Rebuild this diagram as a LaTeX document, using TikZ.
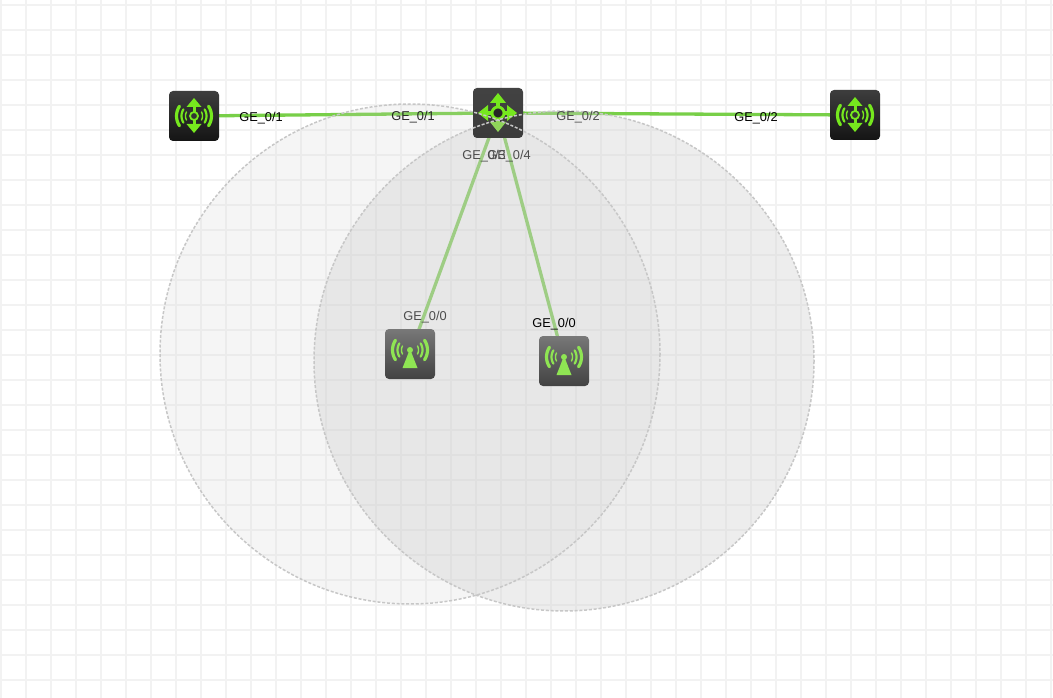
\documentclass[tikz,border=0pt]{standalone}
\usepackage{fontspec}
\setmainfont{Liberation Sans}
\pgfdeclarelayer{under}
\pgfdeclarelayer{over}
\pgfsetlayers{under,main,over}
\definecolor{lime}{HTML}{76E81E}
\definecolor{apgreen}{HTML}{8FE553}
\definecolor{palelime}{HTML}{8FD45A}
\definecolor{linkgreen}{HTML}{78CF48}
\tikzset{
  x=1pt,y=-1pt,
  gridline/.style={draw=black!5,line width=2.6pt},
  devbox/.style={rectangle,rounded corners=4pt,minimum size=50pt,inner sep=0pt,draw=none},
  darkbox/.style={devbox,top color=black!76,bottom color=black!92},
  hubbox/.style={devbox,top color=black!74,bottom color=black!77},
  apbox/.style={devbox,top color=black!53,bottom color=black!74},
  link/.style={line width=3.3pt,draw=linkgreen},
  zonefill/.style={draw=none,fill=black!20},
  zoneline/.style={draw=black!22,dash pattern=on 3pt off 1.8pt,line width=1.5pt},
  portlabel/.style={font=\fontsize{12.8pt}{14pt}\selectfont,inner sep=0pt,text=black!85},
  portdim/.style={portlabel,text=black!70},
  ico/.style={draw=lime,line width=2.4pt,line cap=round},
  wave/.pic={
    \foreach \r/\w/\a in {8.5/1.4/28,12.5/2.2/32,17.5/3.2/34}{
      \draw[draw=#1,line width=\w pt,line cap=round] plot[smooth,domain=-\a:\a,samples=9] ({\r*cos(\x)},{\r*sin(\x)});
      \draw[draw=#1,line width=\w pt,line cap=round] plot[smooth,domain=180-\a:180+\a,samples=9] ({\r*cos(\x)},{\r*sin(\x)});
    }
  },
  wanicon/.pic={
    \pic at (0,0) {wave=lime};
    \draw[ico,line cap=butt,line width=3pt] (0,-10) -- (0,-4) (0,4) -- (0,10);
    \fill[lime] (0,-18) -- (7.5,-9) -- (-7.5,-9) -- cycle;
    \fill[lime] (0,17) -- (7.5,8) -- (-7.5,8) -- cycle;
    \draw[draw=lime,fill=black!80,line width=1.8pt] (0,0) circle[radius=4];
  },
  hubicon/.pic={
    \draw[ico,line cap=butt,line width=3.4pt] (0,-12) -- (0,0) (-12,0) -- (0,0) (12,0) -- (0,0);
    \draw[draw=palelime,line cap=butt,line width=3.4pt] (0,12) -- (0,0);
    \fill[lime] (0,-20) -- (8,-10) -- (-8,-10) -- cycle;
    \fill[palelime] (0,19) -- (8,9) -- (-8,9) -- cycle;
    \fill[lime] (-20,0) -- (-10,8) -- (-10,-8) -- cycle;
    \fill[lime] (19,0) -- (9,8) -- (9,-8) -- cycle;
    \draw[draw=lime,fill=black!85,line width=2.8pt] (0,0) circle[radius=6];
  },
  apicon/.pic={
    \begin{scope}[shift={(0,-4)}]
      \pic at (0,0) {wave=apgreen};
      \fill[apgreen] (0,-1) -- (7.5,18) -- (-7.5,18) -- cycle;
      \fill[apgreen] (0,0) circle[radius=3];
    \end{scope}
  },
}
\begin{document}
\begin{tikzpicture}
\useasboundingbox (0,0) rectangle (1053,698);
% devices below the zones
\node[darkbox] (wanL) at (194,116) {};
\node[darkbox] (wanR) at (855,115) {};
\pic at (wanL) {wanicon};
\pic at (wanR) {wanicon};
\coordinate (hubpos) at (498,113);
\coordinate (apLpos) at (410,354);
\coordinate (apRpos) at (564,361);
\begin{pgfonlayer}{under}
  \fill[white] (0,0) rectangle (1053,698);
  \foreach \k in {0,...,42} \draw[gridline] ({1+25*\k},0) -- ({1+25*\k},698);
  \foreach \k in {0,...,27} \draw[gridline] (0,{5+25*\k}) -- (1053,{5+25*\k});
  \draw[link] (wanL.center) -- (hubpos);
  \draw[link] (hubpos) -- (wanR.center);
  \draw[link] (hubpos) -- (apLpos);
  \draw[link] (hubpos) -- (apRpos);
\end{pgfonlayer}
\begin{pgfonlayer}{over}
  \fill[zonefill,fill opacity=.18] (410,354) circle[radius=250];
  \fill[zonefill,fill opacity=.34] (564,361) circle[radius=250];
  \node[hubbox] (hub) at (hubpos) {};
  \pic at (hub) {hubicon};
  \draw[zoneline] (410,354) circle[radius=250];
  \draw[zoneline] (564,361) circle[radius=250];
  \node[apbox] (apL) at (apLpos) {};
  \node[apbox] (apR) at (apRpos) {};
  \pic at (apL) {apicon};
  \pic at (apR) {apicon};
  \node[portlabel,text=black] (l1) at (261,118) {GE\_0/1};
  \node[portlabel] (l2) at (413,117) {GE\_0/1};
  \node[portdim] (l3) at (578,117) {GE\_0/2};
  \node[portlabel,text=black] (l4) at (756,118) {GE\_0/2};
  \node[portdim] (l5) at (484,156) {GE\_0/3};
  \node[portdim] (l6) at (509,156) {GE\_0/4};
  \node[portdim] (l7) at (425,317) {GE\_0/0};
  \node[portlabel,text=black] (l8) at (554,324) {GE\_0/0};
\end{pgfonlayer}
\end{tikzpicture}
\end{document}
